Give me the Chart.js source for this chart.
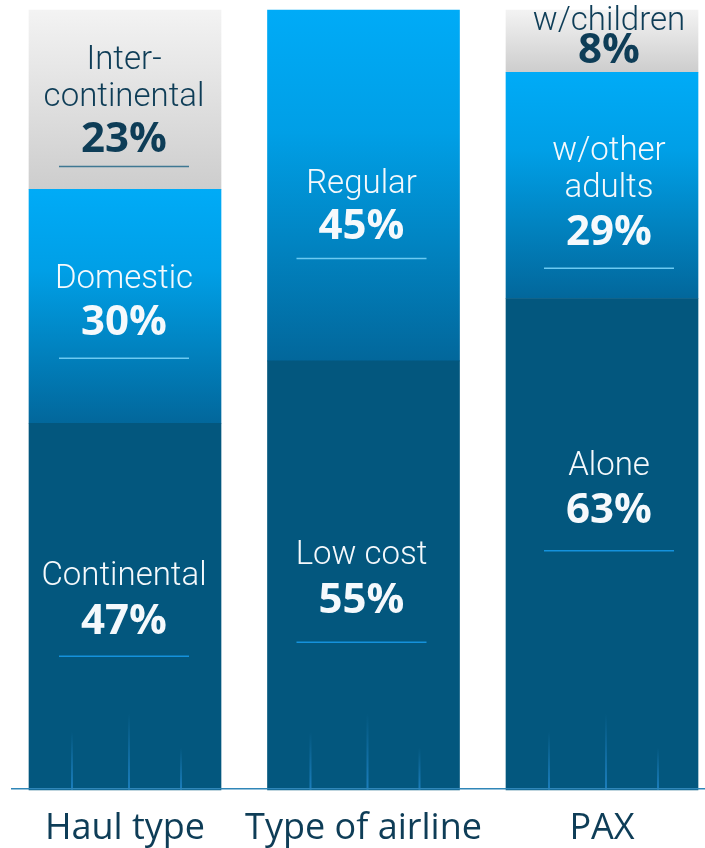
<!DOCTYPE html>
<html>
<head>
<meta charset="utf-8">
<script src="https://cdn.jsdelivr.net/npm/chart.js@4/dist/chart.umd.min.js"></script>
<style>
  html, body { margin: 0; padding: 0; background: #ffffff; overflow: hidden; }
  #wrap { width: 705px; height: 867px; position: relative; }
</style>
</head>
<body>
<div id="wrap"><canvas id="paxChart"></canvas></div>
<script>
// data, bottom segment first
var categories = ['Haul type', 'Type of airline', 'PAX'];
var bottomValues = [47, 55, 63];
var middleValues = [30, 45, 29];
var topValues = [23, 0, 8];
var bottomNames = [['Continental'], ['Low cost'], ['Alone']];
var middleNames = [['Domestic'], ['Regular'], ['w/other', 'adults']];
var topNames = [['Inter-', 'continental'], [], ['w/children']];

// where each label block sits inside its segment (f = fraction from top, g = name->pct gap, u = underline offset)
var labelLayout = [
    [{f: 0.54, g: 44, u: 35}, {f: 0.558, g: 44, u: 42}, {f: 0.43, g: 43, u: 41}],
    [{f: 0.568, g: 42, u: 36}, {f: 0.617, g: 42, u: 32}, {f: 0.707, g: 44, u: 36}],
    [{f: 0.722, g: 42, u: 27}, null, {f: 0.642, g: 28, u: 0}]
];
var labelShiftX = [-1, -2, 7];
var textColors = ['#f5f9fc', '#f5f9fc', '#0e3d57'];
var lineColors = ['#1592dc', '#6ccaf2', '#3f7893'];
var nameFont = '300 33px Roboto';
var pctFont = 'bold 42px "Open Sans"';

function segBounds(chart, dsIndex, i) {
    var y = chart.scales.y;
    var below = 0;
    for (var d = 0; d < dsIndex; d++) below += chart.data.datasets[d].data[i] || 0;
    var val = chart.data.datasets[dsIndex].data[i] || 0;
    return { top: y.getPixelForValue(below + val), bottom: y.getPixelForValue(below) };
}

function middleFill(ctx) {
    var chart = ctx.chart;
    if (!chart.chartArea || ctx.dataIndex === undefined) return '#0090d0';
    var b = segBounds(chart, ctx.datasetIndex, ctx.dataIndex);
    var g = chart.ctx.createLinearGradient(0, b.top, 0, b.bottom);
    g.addColorStop(0, '#00abf7');
    g.addColorStop(0.35, '#009fe6');
    g.addColorStop(1, '#02679b');
    return g;
}

function topFill(ctx) {
    var chart = ctx.chart;
    if (!chart.chartArea || ctx.dataIndex === undefined) return '#e0e0e0';
    var b = segBounds(chart, ctx.datasetIndex, ctx.dataIndex);
    var g = chart.ctx.createLinearGradient(0, b.top, 0, b.bottom);
    g.addColorStop(0, '#f3f3f3');
    g.addColorStop(1, '#cdcdcd');
    return g;
}

// faint vertical streaks at the foot of each bar + the base line
var decorPlugin = {
    id: 'decor',
    afterDatasetsDraw: function (chart) {
        var c = chart.ctx;
        var meta = chart.getDatasetMeta(0);
        var streaks = [[-53, 58], [4, 76], [56, 42]];
        meta.data.forEach(function (bar) {
            streaks.forEach(function (s) {
                var x = bar.x + s[0];
                var g = c.createLinearGradient(0, bar.base - s[1], 0, bar.base);
                g.addColorStop(0, 'rgba(30,130,195,0)');
                g.addColorStop(1, 'rgba(30,130,195,0.9)');
                c.save();
                c.strokeStyle = g;
                c.lineWidth = 2;
                c.beginPath();
                c.moveTo(x, bar.base - s[1]);
                c.lineTo(x, bar.base);
                c.stroke();
                c.restore();
            });
        });
        var yb = chart.scales.y.getPixelForValue(0) - 1;
        c.save();
        c.strokeStyle = '#2f86b8';
        c.lineWidth = 1.5;
        c.beginPath();
        c.moveTo(11, yb);
        c.lineTo(chart.width, yb);
        c.stroke();
        c.restore();
    }
};

var labelPlugin = {
    id: 'segLabels',
    afterDatasetsDraw: function (chart) {
        var c = chart.ctx;
        var names = [bottomNames, middleNames, topNames];
        chart.data.datasets.forEach(function (ds, d) {
            var meta = chart.getDatasetMeta(d);
            meta.data.forEach(function (bar, i) {
                var lay = labelLayout[d][i];
                if (!lay || !ds.data[i]) return;
                var px = bar.x + labelShiftX[i];
                var py = bar.y + lay.f * (bar.base - bar.y);
                c.save();
                c.textAlign = 'center';
                c.textBaseline = 'middle';
                c.fillStyle = textColors[d];
                c.font = pctFont;
                c.fillText(ds.data[i] + '%', px, py + 1);
                c.font = nameFont;
                var lines = names[d][i];
                for (var k = 0; k < lines.length; k++) {
                    var ly = py - lay.g - (lines.length - 1 - k) * 37;
                    c.fillText(lines[k], px, ly);
                }
                if (lay.u) {
                    c.strokeStyle = lineColors[d];
                    c.lineWidth = 1.5;
                    c.beginPath();
                    c.moveTo(px - 65, py + lay.u);
                    c.lineTo(px + 65, py + lay.u);
                    c.stroke();
                }
                c.restore();
            });
        });
    }
};

document.addEventListener('DOMContentLoaded', function () {
    var ctx = document.getElementById('paxChart').getContext('2d');
    var myChart = new Chart(ctx, {
        type: 'bar',
        data: {
            labels: categories,
            datasets: [{
                label: 'Bottom',
                data: bottomValues,
                backgroundColor: '#03577e',
                barThickness: 192,
                clip: false
            }, {
                label: 'Middle',
                data: middleValues,
                backgroundColor: middleFill,
                barThickness: 192,
                clip: false
            }, {
                label: 'Top',
                data: topValues,
                backgroundColor: topFill,
                barThickness: 192,
                clip: false
            }]
        },
        options: {
            responsive: true,
            maintainAspectRatio: false,
            animation: false,
            layout: { padding: { left: 125, right: 103, top: 10, bottom: 0 } },
            plugins: { legend: { display: false }, tooltip: { enabled: false } },
            scales: {
                x: {
                    stacked: true,
                    offset: false,
                    grid: { display: false, drawTicks: false },
                    border: { display: false },
                    ticks: {
                        color: '#0e3d57',
                        padding: 17,
                        font: { family: '"Open Sans"', size: 36 },
                        maxRotation: 0,
                        autoSkip: false
                    }
                },
                y: {
                    stacked: true,
                    display: false,
                    min: 0,
                    max: 100
                }
            }
        },
        plugins: [decorPlugin, labelPlugin]
    });
});
</script>
</body>
</html>
